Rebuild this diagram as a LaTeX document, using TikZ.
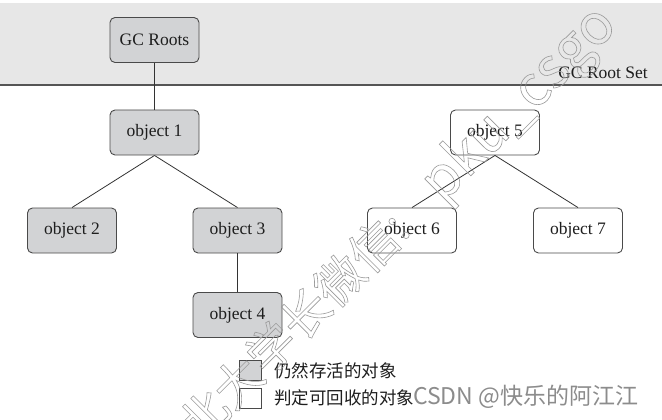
\documentclass[tikz,border=0pt]{standalone}
\usepackage{fontspec}
\setmainfont{Liberation Serif}
\newfontfamily\cjk{Noto Sans CJK SC}
\definecolor{bandgray}{HTML}{E7E7E7}
\definecolor{bandline}{HTML}{555555}
\definecolor{livegray}{HTML}{D2D3D5}
\definecolor{boxline}{HTML}{4A4A4A}
\definecolor{edgecol}{HTML}{333333}
\definecolor{labeltext}{HTML}{1E1E1E}
\definecolor{csdngray}{HTML}{8C8C8C}
\definecolor{wmgray}{HTML}{9A9A9A}
\newcommand{\outlinetext}[1]{\special{pdf:literal direct 1 Tr 0.6 w}#1\special{pdf:literal direct 0 Tr}}
\begin{document}
\begin{tikzpicture}[x=1pt,y=-1pt,
  box/.style={draw=boxline, line width=0.9pt, rounded corners=5pt,
    minimum width=89pt, minimum height=45pt, inner sep=0pt,
    font=\fontsize{17.5}{20}\selectfont, text=labeltext},
  live/.style={box, fill=livegray},
  dead/.style={box, fill=white},
  edge/.style={draw=edgecol, line width=0.8pt},
  legbox/.style={draw=boxline, line width=0.8pt, minimum width=22pt, minimum height=20pt, inner sep=0pt},
  legtext/.style={anchor=west, inner sep=0pt, font=\cjk\fontsize{17.5}{20}\selectfont, text=labeltext},
  wmark/.style={rotate=45, inner sep=0pt, text=wmgray}]
\useasboundingbox (0,0) rectangle (662,420);
\fill[white] (0,0) rectangle (662,420);
% root set band
\fill[bandgray] (0,3) rectangle (662,85);
\draw[bandline, line width=1.2pt] (0,85) -- (662,85);
\node[anchor=east, inner sep=0pt, font=\fontsize{17.5}{20}\selectfont, text=labeltext] (rootset) at (648,73) {GC Root Set};
% nodes
\node[live] (gcr) at (154.5,40) {GC Roots};
\node[live] (o1) at (154.5,132.5) {object 1};
\node[live] (o2) at (72,230.5) {object 2};
\node[live] (o3) at (237.5,230.5) {object 3};
\node[live] (o4) at (237.5,315) {object 4};
\node[dead] (o5) at (495,132.5) {object 5};
\node[dead] (o6) at (412,230.5) {object 6};
\node[dead] (o7) at (578,230.5) {object 7};
% edges
\draw[edge] (gcr.south) -- (o1.north);
\draw[edge] (o1.south) -- (o2.north);
\draw[edge] (o1.south) -- (o3.north);
\draw[edge] (o3.south) -- (o4.north);
\draw[edge] (o5.south) -- (o6.north);
\draw[edge] (o5.south) -- (o7.north);
% legend
\node[legbox, fill=livegray] (lg1) at (250,370.5) {};
\node[legbox, fill=white] (lg2) at (250,398.5) {};
\node[legtext] (lt1) at (274,371) {仍然存活的对象};
\node[legtext] (lt2) at (274,398) {判定可回收的对象};
% credit
\node[anchor=west, inner sep=0pt, text=csdngray, font=\cjk\fontsize{23}{26}\selectfont] (csdn) at (413,397) {CSDN @快乐的阿江江};
% watermark
\node[wmark, font=\cjk\fontsize{48}{50}\selectfont] (wm1) at (293,326) {\outlinetext{北大学长微信:}};
\node[wmark, font=\cjk\fontsize{56}{60}\selectfont] (wm2) at (520,105) {\outlinetext{pku\_csgo}};
\end{tikzpicture}
\end{document}
